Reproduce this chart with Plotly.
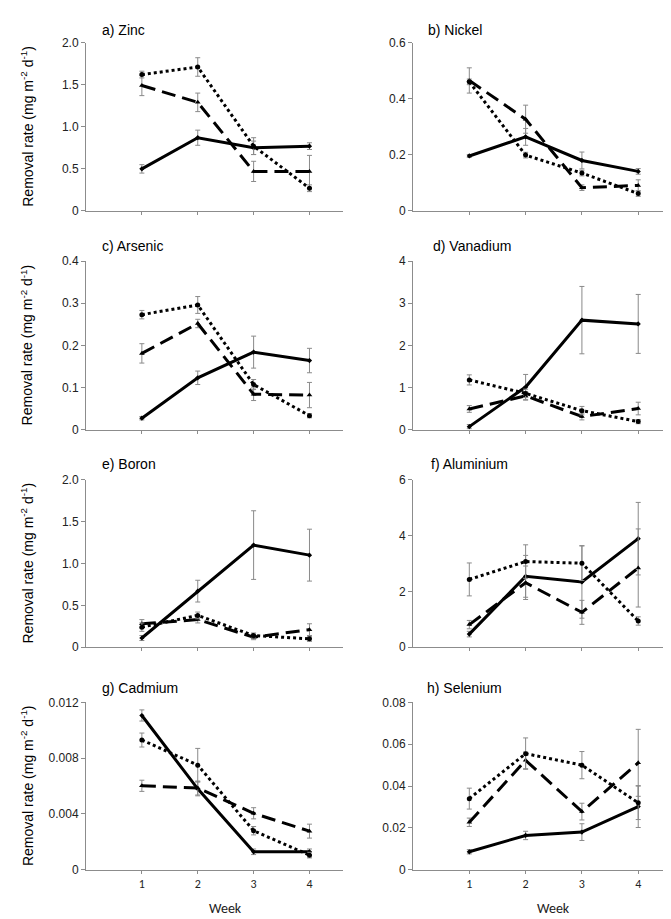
import plotly.graph_objects as go

weeks = [1, 2, 3, 4]
week_labels = ["1", "2", "3", "4"]

panel_titles = ["a) Zinc", "b) Nickel", "c) Arsenic", "d) Vanadium",
                "e) Boron", "f) Aluminium", "g) Cadmium", "h) Selenium"]

# values: solid, dashed, dotted series for each element
zinc_solid = [0.50, 0.87, 0.75, 0.77]
zinc_dashed = [1.49, 1.29, 0.47, 0.47]
zinc_dotted = [1.62, 1.71, 0.77, 0.27]
zinc_solid_err = [0.05, 0.09, 0.08, 0.04]
zinc_dashed_err = [0.12, 0.11, 0.12, 0.19]
zinc_dotted_err = [0.04, 0.11, 0.10, 0.04]

nickel_solid = [0.196, 0.264, 0.180, 0.141]
nickel_dashed = [0.465, 0.327, 0.083, 0.091]
nickel_dotted = [0.460, 0.199, 0.135, 0.062]
nickel_solid_err = [0.005, 0.03, 0.03, 0.01]
nickel_dashed_err = [0.045, 0.05, 0.01, 0.02]
nickel_dotted_err = [0.01, 0.01, 0.01, 0.01]

arsenic_solid = [0.027, 0.123, 0.184, 0.164]
arsenic_dashed = [0.181, 0.252, 0.084, 0.082]
arsenic_dotted = [0.273, 0.296, 0.107, 0.033]
arsenic_solid_err = [0.004, 0.016, 0.038, 0.029]
arsenic_dashed_err = [0.023, 0.01, 0.015, 0.03]
arsenic_dotted_err = [0.01, 0.02, 0.012, 0.005]

vanadium_solid = [0.07, 1.01, 2.60, 2.51]
vanadium_dashed = [0.49, 0.80, 0.31, 0.50]
vanadium_dotted = [1.18, 0.86, 0.45, 0.19]
vanadium_solid_err = [0.05, 0.30, 0.80, 0.70]
vanadium_dashed_err = [0.08, 0.10, 0.08, 0.15]
vanadium_dotted_err = [0.12, 0.10, 0.10, 0.05]

boron_solid = [0.11, 0.67, 1.22, 1.10]
boron_dashed = [0.28, 0.33, 0.12, 0.21]
boron_dotted = [0.24, 0.38, 0.14, 0.10]
boron_solid_err = [0.03, 0.13, 0.41, 0.31]
boron_dashed_err = [0.05, 0.04, 0.03, 0.07]
boron_dotted_err = [0.05, 0.04, 0.03, 0.03]

aluminium_solid = [0.47, 2.54, 2.34, 3.89]
aluminium_dashed = [0.81, 2.31, 1.25, 2.84]
aluminium_dotted = [2.43, 3.07, 3.01, 0.94]
aluminium_solid_err = [0.10, 0.75, 1.30, 1.30]
aluminium_dashed_err = [0.15, 0.60, 0.43, 1.40]
aluminium_dotted_err = [0.59, 0.60, 0.62, 0.15]

cadmium_solid = [0.01106, 0.0058, 0.00129, 0.00129]
cadmium_dashed = [0.00602, 0.00586, 0.00405, 0.00277]
cadmium_dotted = [0.0093, 0.0075, 0.0028, 0.00105]
cadmium_solid_err = [0.0004, 0.0005, 0.0002, 0.0002]
cadmium_dashed_err = [0.0004, 0.0005, 0.0004, 0.0005]
cadmium_dotted_err = [0.0005, 0.0012, 0.0003, 0.0002]

selenium_solid = [0.0086, 0.0164, 0.018, 0.0302]
selenium_dashed = [0.0227, 0.0523, 0.0278, 0.0511]
selenium_dotted = [0.034, 0.0555, 0.050, 0.032]
selenium_solid_err = [0.001, 0.002, 0.004, 0.010]
selenium_dashed_err = [0.002, 0.004, 0.004, 0.016]
selenium_dotted_err = [0.005, 0.0075, 0.0065, 0.008]

y_ranges = [[0, 2], [0, 0.6], [0, 0.4], [0, 4], [0, 2], [0, 6], [0, 0.012], [0, 0.08]]
y_tickvals = [[0, 0.5, 1.0, 1.5, 2.0], [0, 0.2, 0.4, 0.6], [0, 0.1, 0.2, 0.3, 0.4],
              [0, 1, 2, 3, 4], [0, 0.5, 1.0, 1.5, 2.0], [0, 2, 4, 6],
              [0, 0.004, 0.008, 0.012], [0, 0.02, 0.04, 0.06, 0.08]]
y_ticktext = [["0", "0.5", "1.0", "1.5", "2.0"], ["0", "0.2", "0.4", "0.6"],
              ["0", "0.1", "0.2", "0.3", "0.4"], ["0", "1", "2", "3", "4"],
              ["0", "0.5", "1.0", "1.5", "2.0"], ["0", "2", "4", "6"],
              ["0", "0.004", "0.008", "0.012"], ["0", "0.02", "0.04", "0.06", "0.08"]]

panels = [
    (zinc_solid, zinc_dashed, zinc_dotted, zinc_solid_err, zinc_dashed_err, zinc_dotted_err),
    (nickel_solid, nickel_dashed, nickel_dotted, nickel_solid_err, nickel_dashed_err, nickel_dotted_err),
    (arsenic_solid, arsenic_dashed, arsenic_dotted, arsenic_solid_err, arsenic_dashed_err, arsenic_dotted_err),
    (vanadium_solid, vanadium_dashed, vanadium_dotted, vanadium_solid_err, vanadium_dashed_err, vanadium_dotted_err),
    (boron_solid, boron_dashed, boron_dotted, boron_solid_err, boron_dashed_err, boron_dotted_err),
    (aluminium_solid, aluminium_dashed, aluminium_dotted, aluminium_solid_err, aluminium_dashed_err, aluminium_dotted_err),
    (cadmium_solid, cadmium_dashed, cadmium_dotted, cadmium_solid_err, cadmium_dashed_err, cadmium_dotted_err),
    (selenium_solid, selenium_dashed, selenium_dotted, selenium_solid_err, selenium_dashed_err, selenium_dotted_err),
]

W, H = 671, 919
row_px = [(28, 199), (250, 421), (472, 642), (698, 868)]
col_px = [(78, 335), (405, 664)]
title_px = [(92, 15), (418, 15), (92, 235), (423, 235), (92, 456), (421, 456), (92, 683), (417, 683)]

fig = go.Figure()
styles = [("solid", "diamond", 4), ("14px,7px", "triangle-up", 5), ("dot", "circle", 5)]
axis_gray = "#8c8c8c"
err_gray = "#8a8a8a"
font_fam = "Liberation Sans, Arial, sans-serif"
annotations = []

for i, p in enumerate(panels):
    r, c = divmod(i, 2)
    n = i + 1
    xa = "x" if n == 1 else f"x{n}"
    ya = "y" if n == 1 else f"y{n}"
    vals = p[:3]
    errs = p[3:]
    for k in range(3):
        dash, sym, msz = styles[k]
        fig.add_trace(go.Scatter(
            x=weeks, y=vals[k], xaxis=xa, yaxis=ya, mode="lines+markers",
            line=dict(color="black", width=3, dash=dash),
            marker=dict(color="black", size=msz, symbol=sym),
            error_y=dict(type="data", array=errs[k], visible=True,
                         color=err_gray, thickness=1, width=2.5),
            showlegend=False, cliponaxis=False))
    x0, x1 = col_px[c]
    y0, y1 = row_px[r]
    bottom = (r == 3)
    fig.layout[f"xaxis{'' if n == 1 else n}"] = dict(
        domain=[x0 / W, x1 / W], anchor=ya, range=[0, 4.6],
        tickvals=weeks, ticktext=week_labels, showticklabels=bottom,
        ticks="outside", ticklen=3, tickcolor=axis_gray, tickwidth=1,
        showline=True, linecolor=axis_gray, linewidth=1,
        showgrid=False, zeroline=False,
        tickfont=dict(family="Carlito, Liberation Sans, sans-serif", size=12, color="#222"))
    fig.layout[f"yaxis{'' if n == 1 else n}"] = dict(
        domain=[1 - y1 / H, 1 - y0 / H], anchor=xa, range=y_ranges[i],
        tickvals=y_tickvals[i], ticktext=y_ticktext[i],
        ticks="outside", ticklen=4, tickcolor=axis_gray, tickwidth=1,
        showline=True, linecolor=axis_gray, linewidth=1,
        showgrid=False, zeroline=False,
        tickfont=dict(family=font_fam, size=12, color="#222"))
    tx, ty = title_px[i]
    annotations.append(dict(
        text=panel_titles[i], x=tx / W, y=1 - ty / H, xref="paper", yref="paper",
        xanchor="left", yanchor="middle", showarrow=False,
        font=dict(family=font_fam, size=14, color="black")))
    if c == 0:
        annotations.append(dict(
            text="Removal rate (mg m<sup>-2</sup> d<sup>-1</sup>)",
            x=19 / W, y=1 - ((y0 + y1) / 2) / H, xref="paper", yref="paper",
            xanchor="center", yanchor="middle", textangle=-90, showarrow=False,
            font=dict(family=font_fam, size=14, color="black")))
    if bottom:
        annotations.append(dict(
            text="Week", x=2.5, y=1 - 907 / H, xref=xa, yref="paper",
            xanchor="center", yanchor="middle", showarrow=False,
            font=dict(family="Carlito, Liberation Sans, sans-serif", size=14, color="#222")))

fig.update_layout(width=W, height=H, margin=dict(l=0, r=0, t=0, b=0),
                  paper_bgcolor="white", plot_bgcolor="white",
                  annotations=annotations)
fig.write_html("out.html")
